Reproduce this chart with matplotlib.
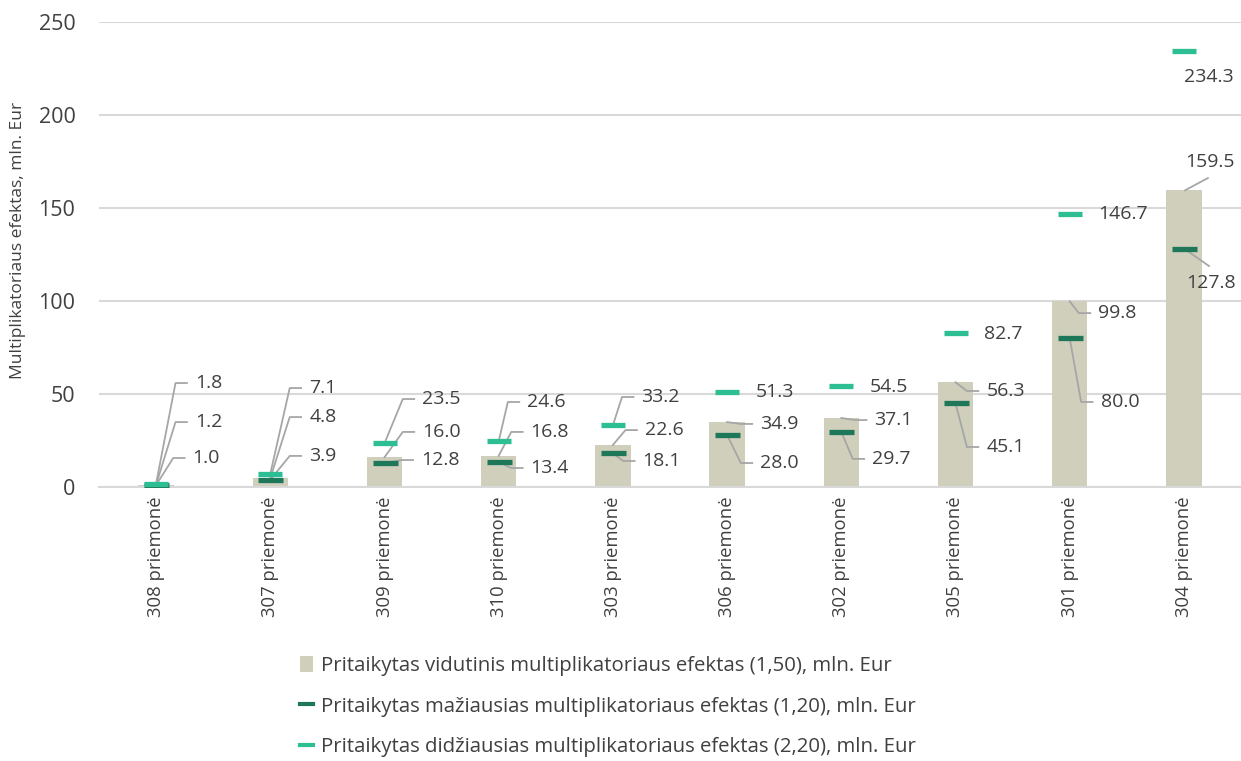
import matplotlib
matplotlib.use("Agg")
import matplotlib.pyplot as plt
from matplotlib.patches import Patch
from matplotlib.lines import Line2D

plt.rcParams['font.family'] = ['Open Sans', 'DejaVu Sans']

# --- duomenys ---
categories = ["308 priemonė", "307 priemonė", "309 priemonė", "310 priemonė", "303 priemonė",
              "306 priemonė", "302 priemonė", "305 priemonė", "301 priemonė", "304 priemonė"]
avg_vals = [1.2, 4.8, 16.0, 16.8, 22.6, 34.9, 37.1, 56.3, 99.8, 159.5]
min_vals = [1.0, 3.9, 12.8, 13.4, 18.1, 28.0, 29.7, 45.1, 80.0, 127.8]
max_vals = [1.8, 7.1, 23.5, 24.6, 33.2, 51.3, 54.5, 82.7, 146.7, 234.3]

lbl_avg = "Pritaikytas vidutinis multiplikatoriaus efektas (1,50), mln. Eur"
lbl_min = "Pritaikytas mažiausias multiplikatoriaus efektas (1,20), mln. Eur"
lbl_max = "Pritaikytas didžiausias multiplikatoriaus efektas (2,20), mln. Eur"

# --- etikečių išdėstymas: (x poslinkis, y padėtis, linijos tipas) ---
pos_avg = [(0.34, 34.9, 'e'), (0.34, 37.6, 'e'), (0.33, 29.6, 'e'), (0.28, 29.6, 'e'),
           (0.28, 30.6, 'e'), (0.29, 33.9, 'e'), (0.29, 36.0, 'e'), (0.27, 51.6, 'e'),
           (0.25, 93.5, 'e'), (0.01, 174.7, (0.21, 166.1))]
pos_min = [(0.32, 15.6, 'e'), (0.34, 16.7, 'e'), (0.32, 14.5, 'e'), (0.28, 10.2, 'e'),
           (0.26, 14.0, 'e'), (0.29, 12.9, 'e'), (0.27, 15.1, 'e'), (0.27, 21.5, 'e'),
           (0.27, 45.7, 'e'), (0.02, 109.7, (0.22, 118.8))]
pos_max = [(0.34, 55.9, 'e'), (0.34, 53.2, 'e'), (0.33, 47.3, 'e'), (0.25, 45.7, 'e'),
           (0.25, 48.4, 'e'), (0.25, 51.1, None), (0.25, 53.8, None), (0.25, 82.3, None),
           (0.25, 146.8, None), (0.0, 220.4, None)]

C_BAR = '#CFCFBC'
C_MIN = '#1E7759'
C_MAX = '#2DBE93'
C_TXT = '#404040'
C_LEAD = '#A6A6A6'
C_GRID = '#D9D9D9'

fig = plt.figure(figsize=(12.41, 7.61), dpi=100)
ax = fig.add_axes([99/1241, 1 - 487/761, 1 - 99/1241, (487 - 22)/761])

x = list(range(len(categories)))
ax.bar(x, avg_vals, width=0.31, color=C_BAR, zorder=2)
ax.plot(x, min_vals, ls='none', marker='_', markersize=18, markeredgewidth=3.8, color=C_MIN, zorder=5)
ax.plot(x, max_vals, ls='none', marker='_', markersize=17, markeredgewidth=3.8, color=C_MAX, zorder=5)

def put_labels(vals, pos):
    for i, (v, (dx, ty, lead)) in enumerate(zip(vals, pos)):
        ax.text(i + dx, ty, f"{v:.1f}", ha='left', va='center', fontsize=14, color=C_TXT, zorder=6)
        if lead == 'e':
            ax.plot([i, i + dx - 0.17, i + dx - 0.07], [v, ty, ty], color=C_LEAD, lw=1.3, zorder=4)
        elif isinstance(lead, tuple):
            ax.plot([i + 0.01, i + lead[0]], [v, lead[1]], color=C_LEAD, lw=1.3, zorder=4)

put_labels(avg_vals, pos_avg)
put_labels(min_vals, pos_min)
put_labels(max_vals, pos_max)

ax.set_xlim(-0.5, len(categories) - 0.5)
ax.set_ylim(0, 250)
ax.set_yticks(range(0, 251, 50))
ax.set_xticks(x)
ax.set_xticklabels(categories, rotation=90, fontsize=13.3, color=C_TXT)
ax.tick_params(axis='y', length=0, pad=17, labelsize=15.5, labelcolor=C_TXT)
ax.tick_params(axis='x', length=0, pad=7)
ax.grid(axis='y', color=C_GRID, lw=1.5, zorder=0)
ax.set_axisbelow(True)
for s in ['top', 'right', 'left']:
    ax.spines[s].set_visible(False)
ax.spines['bottom'].set_color(C_GRID)
ax.spines['bottom'].set_linewidth(1.5)

fig.text(18/1241, 1 - 240/761, "Multiplikatoriaus efektas, mln. Eur", rotation=90,
         ha='center', va='center', fontsize=12.5, color=C_TXT)

handles = [Patch(facecolor=C_BAR, edgecolor='none'),
           Line2D([0], [0], color=C_MIN, lw=3),
           Line2D([0], [0], color=C_MAX, lw=3)]
fig.legend(handles, [lbl_avg, lbl_min, lbl_max], loc='upper left',
           bbox_to_anchor=(290/1241, 1 - 646/761), frameon=False, fontsize=14.7,
           labelcolor=C_TXT, handlelength=0.65, handleheight=0.8, handletextpad=0.35,
           labelspacing=1.0, borderpad=0)

fig.savefig("out.png", dpi=100)
